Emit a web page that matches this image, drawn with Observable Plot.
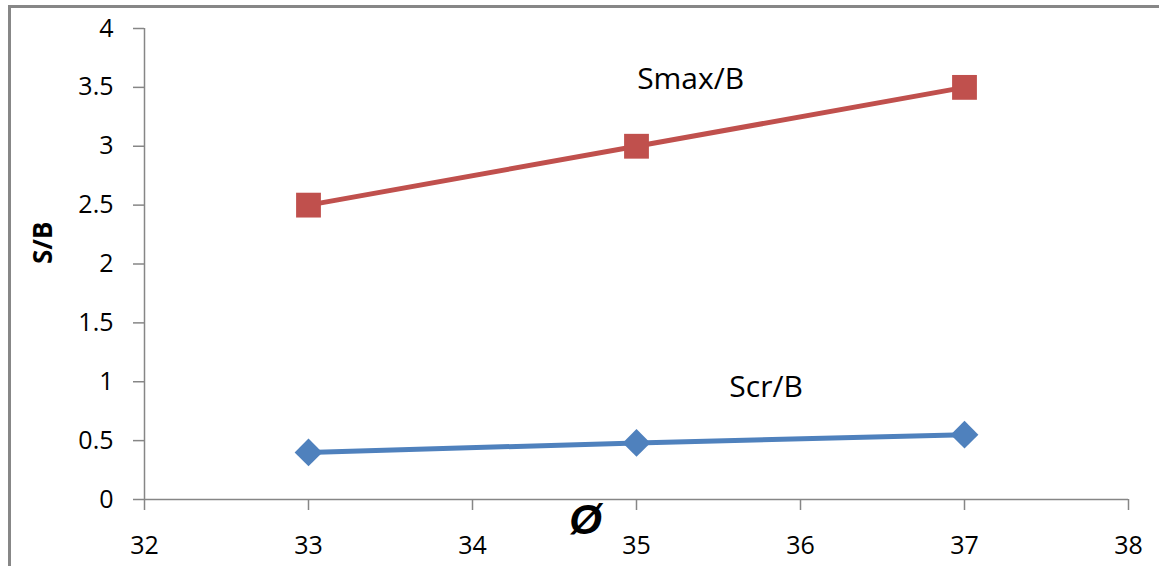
<!DOCTYPE html>
<html>
<head>
<meta charset="utf-8">
<script src="https://cdn.jsdelivr.net/npm/d3@7"></script>
<script src="https://cdn.jsdelivr.net/npm/@observablehq/plot@0.6"></script>
<style>
  html, body { margin: 0; padding: 0; background: #fff; }
  #wrap { position: relative; width: 1159px; height: 566px; overflow: hidden; }
  #edge { position: absolute; left: 8px; top: 5px; width: 1300px; height: 700px;
          border-left: 3px solid #878787; border-top: 3px solid #878787; box-sizing: border-box; }
  #chart { position: absolute; left: 0; top: 0; }
</style>
</head>
<body>
<div id="wrap"><div id="edge"></div><div id="chart"></div></div>
<script>
// Friction angle (degrees) against settlement ratios
const phi = [33, 35, 37];
const smaxB = [2.5, 3, 3.5];
const scrB = [0.4, 0.48, 0.55];

const xTicks = [32, 33, 34, 35, 36, 37, 38];
const yTicks = [0, 0.5, 1, 1.5, 2, 2.5, 3, 3.5, 4];

// Series names written beside each line (anchor in data units)
const seriesNames = ["Smax/B", "Scr/B"];
const nameX = [35.33, 35.79];
const nameY = [3.49, 0.87];

const red = "#C0504D";
const blue = "#4F81BD";
const axisGray = "#868686";

const smaxRows = phi.map((p, i) => ({phi: p, v: smaxB[i]}));
const scrRows = phi.map((p, i) => ({phi: p, v: scrB[i]}));
const nameRows = seriesNames.map((s, i) => ({s, x: nameX[i], y: nameY[i]}));

const chart = Plot.plot({
  width: 1159,
  height: 566,
  marginLeft: 144,
  marginRight: 31,
  marginTop: 28,
  marginBottom: 67,
  style: {fontFamily: "'Open Sans', sans-serif", fontSize: "25px", background: "transparent", color: "#000"},
  x: {domain: [32, 38]},
  y: {domain: [0, 4]},
  marks: [
    Plot.ruleX([32], {stroke: axisGray, strokeWidth: 1.5}),
    Plot.ruleY([0], {stroke: axisGray, strokeWidth: 1.5}),
    Plot.axisY({ticks: yTicks, tickSize: 11, tickPadding: 20, tickFormat: d => String(d),
                stroke: axisGray, fill: "#000", strokeWidth: 1.5, label: null, fontSize: 25}),
    Plot.axisX({ticks: xTicks, tickSize: 11, tickPadding: 26, tickFormat: d => String(d),
                stroke: axisGray, fill: "#000", strokeWidth: 1.5, label: null, fontSize: 25}),
    Plot.line(smaxRows, {x: "phi", y: "v", stroke: red, strokeWidth: 5}),
    Plot.dot(smaxRows, {x: "phi", y: "v", symbol: "square", r: 14, fill: red, stroke: null}),
    Plot.line(scrRows, {x: "phi", y: "v", stroke: blue, strokeWidth: 5}),
    Plot.dot(scrRows, {x: "phi", y: "v", symbol: "diamond2", r: 12.5, fill: blue, stroke: null}),
    Plot.text(nameRows, {x: "x", y: "y", text: "s", fontSize: 30, lineAnchor: "bottom", fill: "#000"}),
    Plot.text(["S/B"], {frameAnchor: "left", dx: -101, rotate: -90, fontWeight: "bold", fontSize: 26, fill: "#000"}),
    Plot.text(["Ø"], {frameAnchor: "bottom", dx: -51, dy: 34, fontWeight: "bold", fontStyle: "italic",
                      fontFamily: "'Liberation Sans Narrow', 'Liberation Sans', sans-serif", fontSize: 42, fill: "#000"})
  ]
});
document.getElementById("chart").appendChild(chart);
</script>
</body>
</html>
